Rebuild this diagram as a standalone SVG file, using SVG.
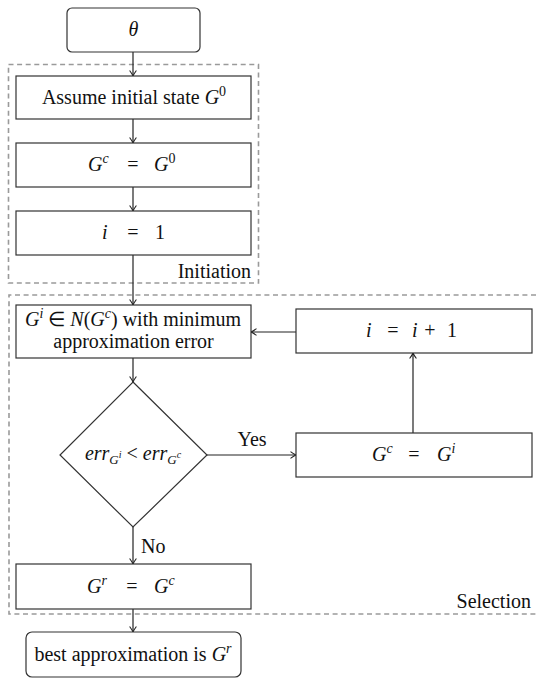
<svg xmlns="http://www.w3.org/2000/svg" width="536" height="679" viewBox="0 0 536 679">
<defs>
<marker id="arr" viewBox="-7 -5 8 10" refX="0" refY="0" markerWidth="8" markerHeight="10" orient="auto" markerUnits="userSpaceOnUse">
<path d="M-5.5,-3.4 Q-2,-0.8 0,0 Q-2,0.8 -5.5,3.4" fill="none" stroke="#222" stroke-width="1.1"/>
</marker>
</defs>

<g id="groups">
<rect x="8.5" y="64.5" width="250" height="218.5" fill="none" stroke="#9a9a9a" stroke-width="1.6" stroke-dasharray="5 3.6"/>
<path d="M536,295 H9 V614 H536" fill="none" stroke="#9a9a9a" stroke-width="1.6" stroke-dasharray="5 3.6"/>
<text font-family="'Liberation Serif', serif" font-size="20" fill="#111" text-anchor="end" x="251" y="278">Initiation</text>
<text font-family="'Liberation Serif', serif" font-size="20" fill="#111" text-anchor="end" x="531" y="608">Selection</text>
</g>

<g id="connectors">
<g fill="none" stroke="#222" stroke-width="1.2" marker-end="url(#arr)">
<line x1="133" y1="52" x2="133" y2="76"/>
<line x1="133" y1="119" x2="133" y2="143"/>
<line x1="133" y1="187" x2="133" y2="211"/>
<line x1="133" y1="255" x2="133" y2="305"/>
<line x1="133" y1="358" x2="133" y2="382"/>
<line x1="207" y1="455" x2="296" y2="455"/>
<line x1="413" y1="433" x2="413" y2="353"/>
<line x1="296" y1="332" x2="251" y2="332"/>
<line x1="133" y1="527" x2="133" y2="564"/>
<line x1="133" y1="609" x2="133" y2="632"/>
</g>
<text font-family="'Liberation Serif', serif" font-size="20" fill="#111" text-anchor="middle" x="252" y="446">Yes</text>
<text font-family="'Liberation Serif', serif" font-size="20" fill="#111" x="141" y="553">No</text>
</g>

<g id="start">
<rect x="67" y="8" width="133" height="44" rx="5" fill="#fff" stroke="#333" stroke-width="1.2"/>
<text font-family="'Liberation Serif', serif" font-size="20" fill="#111" font-style="italic" text-anchor="middle" x="133.5" y="36">θ</text>
</g>

<g id="assume">
<rect x="16" y="76" width="235" height="43" fill="#fff" stroke="#333" stroke-width="1.2"/>
<text font-family="'Liberation Serif', serif" font-size="20" fill="#111" text-anchor="middle" x="134" y="104">Assume initial state <tspan font-style="italic">G</tspan><tspan font-size="14" dy="-8">0</tspan></text>
</g>

<g id="gc-g0">
<rect x="16" y="143" width="235" height="44" fill="#fff" stroke="#333" stroke-width="1.2"/>
<text font-family="'Liberation Serif', serif" font-size="20" fill="#111" font-style="italic" x="88" y="171">G<tspan font-size="14" dy="-8">c</tspan></text>
<text font-family="'Liberation Serif', serif" font-size="20" fill="#111" text-anchor="middle" x="133" y="171">=</text>
<text font-family="'Liberation Serif', serif" font-size="20" fill="#111" x="154" y="171"><tspan font-style="italic">G</tspan><tspan font-size="14" dy="-8">0</tspan></text>
</g>

<g id="i-1">
<rect x="16" y="211" width="235" height="44" fill="#fff" stroke="#333" stroke-width="1.2"/>
<text font-family="'Liberation Serif', serif" font-size="20" fill="#111" font-style="italic" x="102" y="239">i</text>
<text font-family="'Liberation Serif', serif" font-size="20" fill="#111" text-anchor="middle" x="133" y="239">=</text>
<text font-family="'Liberation Serif', serif" font-size="20" fill="#111" text-anchor="middle" x="160" y="239">1</text>
</g>

<g id="neighbour">
<rect x="16" y="305" width="235" height="53" fill="#fff" stroke="#333" stroke-width="1.2"/>
<text font-family="'Liberation Serif', serif" font-size="20" fill="#111" text-anchor="middle" x="133" y="326"><tspan font-style="italic">G</tspan><tspan font-style="italic" font-size="14" dy="-8">i</tspan><tspan dy="8"> ∈ </tspan><tspan font-style="italic">N</tspan>(<tspan font-style="italic">G</tspan><tspan font-style="italic" font-size="14" dy="-8">c</tspan><tspan dy="8">) with minimum</tspan></text>
<text font-family="'Liberation Serif', serif" font-size="20" fill="#111" text-anchor="middle" x="133.5" y="348">approximation error</text>
</g>

<g id="increment">
<rect x="296" y="309" width="236" height="44" fill="#fff" stroke="#333" stroke-width="1.2"/>
<text font-family="'Liberation Serif', serif" font-size="20" fill="#111" font-style="italic" x="366" y="337">i</text>
<text font-family="'Liberation Serif', serif" font-size="20" fill="#111" text-anchor="middle" x="393" y="337">=</text>
<text font-family="'Liberation Serif', serif" font-size="20" fill="#111" font-style="italic" x="412" y="337">i</text>
<text font-family="'Liberation Serif', serif" font-size="20" fill="#111" text-anchor="middle" x="430" y="337">+</text>
<text font-family="'Liberation Serif', serif" font-size="20" fill="#111" text-anchor="middle" x="452" y="337">1</text>
</g>

<g id="decision">
<polygon points="133,382 207,455 133,527 60,455" fill="#fff" stroke="#333" stroke-width="1.2"/>
<text font-family="'Liberation Serif', serif" font-size="20" fill="#111" text-anchor="middle" x="133" y="460"><tspan font-style="italic">err</tspan><tspan font-style="italic" font-size="13" dy="4">G</tspan><tspan font-style="italic" font-size="10" dy="-6">i</tspan><tspan dy="2"> &lt; </tspan><tspan font-style="italic">err</tspan><tspan font-style="italic" font-size="13" dy="4">G</tspan><tspan font-style="italic" font-size="10" dy="-6">c</tspan></text>
</g>

<g id="gc-gi">
<rect x="296" y="433" width="236" height="44" fill="#fff" stroke="#333" stroke-width="1.2"/>
<text font-family="'Liberation Serif', serif" font-size="20" fill="#111" font-style="italic" x="372" y="461">G<tspan font-size="14" dy="-8">c</tspan></text>
<text font-family="'Liberation Serif', serif" font-size="20" fill="#111" text-anchor="middle" x="414" y="461">=</text>
<text font-family="'Liberation Serif', serif" font-size="20" fill="#111" font-style="italic" x="437" y="461">G<tspan font-size="14" dy="-8">i</tspan></text>
</g>

<g id="gr-gc">
<rect x="16" y="564" width="235" height="45" fill="#fff" stroke="#333" stroke-width="1.2"/>
<text font-family="'Liberation Serif', serif" font-size="20" fill="#111" font-style="italic" x="87" y="593">G<tspan font-size="14" dy="-8">r</tspan></text>
<text font-family="'Liberation Serif', serif" font-size="20" fill="#111" text-anchor="middle" x="132" y="593">=</text>
<text font-family="'Liberation Serif', serif" font-size="20" fill="#111" font-style="italic" x="154" y="593">G<tspan font-size="14" dy="-8">c</tspan></text>
</g>

<g id="result">
<rect x="26" y="632" width="215" height="45" rx="6" fill="#fff" stroke="#333" stroke-width="1.2"/>
<text font-family="'Liberation Serif', serif" font-size="20" fill="#111" text-anchor="middle" x="133" y="661">best approximation is <tspan font-style="italic">G</tspan><tspan font-style="italic" font-size="14" dy="-8">r</tspan></text>
</g>
</svg>
